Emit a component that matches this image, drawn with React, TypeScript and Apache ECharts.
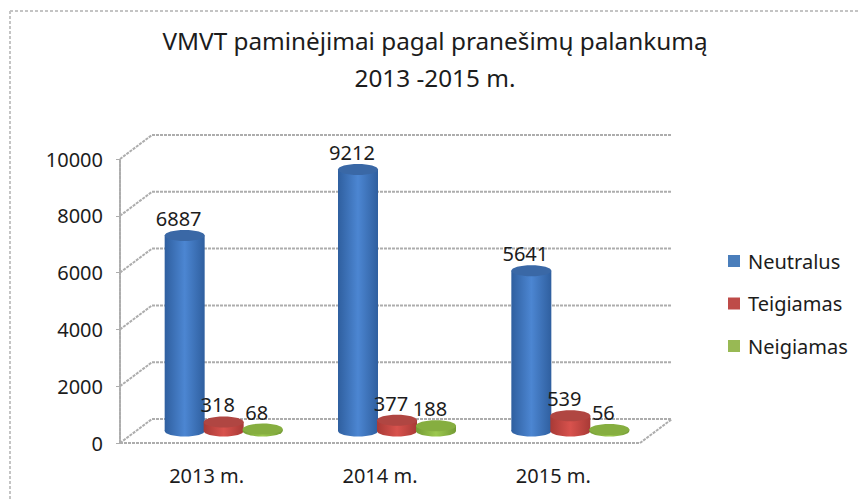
import React, { useEffect, useRef } from "react";
import * as echarts from "echarts";

const categories = ["2013 m.", "2014 m.", "2015 m."];
const neutralus = [6887, 9212, 5641];
const teigiamas = [318, 377, 539];
const neigiamas = [68, 188, 56];
const yTicks = [0, 2000, 4000, 6000, 8000, 10000];

const FONT = "'Noto Sans', sans-serif";
const DEPTH_X = 32;
const DEPTH_Y = -24;
const GRID_COLOR = "#adadad";
const GRID_DASH = [3, 1];

const lineStyle = { stroke: GRID_COLOR, lineWidth: 2, lineDash: GRID_DASH, fill: "none" };

function frameItem(params: any, api: any) {
  const v = api.value(0);
  const cs = params.coordSys;
  const y = api.coord([0, v])[1];
  const left = cs.x;
  const right = cs.x + cs.width;
  const children: any[] = [
    { type: "line", shape: { x1: left, y1: y, x2: left + DEPTH_X, y2: y + DEPTH_Y }, style: lineStyle },
    { type: "line", shape: { x1: left + DEPTH_X, y1: y + DEPTH_Y, x2: right + DEPTH_X, y2: y + DEPTH_Y }, style: lineStyle },
  ];
  if (v === 0) {
    children.push(
      { type: "line", shape: { x1: left, y1: y, x2: right, y2: y }, style: lineStyle },
      { type: "line", shape: { x1: right, y1: y, x2: right + DEPTH_X, y2: y + DEPTH_Y }, style: lineStyle },
    );
  }
  return { type: "group", children };
}

function cylinder(slot: number, edge: string, mid: string, top: string) {
  return (_params: any, api: any) => {
    const idx = api.value(0);
    const v = api.value(1);
    const p0 = api.coord([idx, 0]);
    const p1 = api.coord([idx, v]);
    const cx = p0[0] + 17 + slot * 39;
    const yBase = p0[1] - 12;
    const yTop = p1[1] - 12;
    const rx = 20;
    const ry = 5.5;
    const fill = new echarts.graphic.LinearGradient(0, 0, 1, 0, [
      { offset: 0, color: edge },
      { offset: 0.5, color: mid },
      { offset: 1, color: edge },
    ]);
    return {
      type: "group",
      children: [
        { type: "ellipse", shape: { cx, cy: yBase, rx, ry }, style: { fill } },
        { type: "rect", shape: { x: cx - rx, y: yTop, width: rx * 2, height: yBase - yTop }, style: { fill } },
        { type: "ellipse", shape: { cx, cy: yTop, rx, ry }, style: { fill: top } },
        {
          type: "text",
          style: {
            text: String(v),
            x: cx - 6,
            y: yTop - 17,
            align: "center",
            verticalAlign: "middle",
            font: `20px ${FONT}`,
            fill: "#1c1c1c",
          },
        },
      ],
    };
  };
}

const barSeries = (name: string, values: number[], slot: number, edge: string, mid: string, top: string, legendColor: string) => ({
  name,
  type: "custom",
  clip: false,
  z: 5,
  itemStyle: { color: legendColor },
  encode: { x: 0, y: 1 },
  data: values.map((v, i) => [i, v]),
  renderItem: cylinder(slot, edge, mid, top),
});

export default function App() {
  const ref = useRef<HTMLDivElement>(null);
  useEffect(() => {
    const chart = echarts.init(ref.current!, undefined, { renderer: "svg" });
    chart.setOption({
      animation: false,
      backgroundColor: "#ffffff",
      title: {
        text: "VMVT paminėjimai pagal pranešimų palankumą\n2013 -2015 m.",
        left: 430,
        top: 17,
        textAlign: "center",
        textStyle: { fontFamily: FONT, fontSize: 24.3, fontWeight: "normal", color: "#1c1c1c", lineHeight: 37 },
      },
      legend: {
        orient: "vertical",
        left: 728,
        top: 249,
        padding: 0,
        data: ["Neutralus", "Teigiamas", "Neigiamas"],
        icon: "rect",
        itemWidth: 12,
        itemHeight: 12,
        itemGap: 18.5,
        textStyle: { fontFamily: FONT, fontSize: 20, color: "#1c1c1c", padding: [0, 0, 0, 3], height: 24, lineHeight: 24 },
      },
      grid: { left: 120, top: 159, width: 520, height: 284 },
      xAxis: {
        type: "category",
        data: categories,
        axisLine: { show: false },
        axisTick: { show: false },
        axisLabel: { margin: 22, fontFamily: FONT, fontSize: 20, color: "#1c1c1c" },
      },
      yAxis: {
        type: "value",
        min: 0,
        max: 10000,
        interval: 2000,
        axisLine: { show: true, lineStyle: { color: GRID_COLOR, width: 2, type: GRID_DASH } },
        axisTick: { show: true, length: 4, lineStyle: { color: GRID_COLOR } },
        splitLine: { show: false },
        axisLabel: { margin: 17, fontFamily: FONT, fontSize: 20, color: "#1c1c1c", formatter: (v: number) => String(v) },
      },
      graphic: [
        { type: "line", shape: { x1: 10, y1: 11, x2: 859, y2: 11 }, style: { stroke: "#c4c4c4", lineWidth: 2, lineDash: [3, 2] } },
        { type: "line", shape: { x1: 10, y1: 11, x2: 10, y2: 500 }, style: { stroke: "#c4c4c4", lineWidth: 2, lineDash: [3, 2] } },
      ],
      series: [
        {
          name: "frame",
          type: "custom",
          clip: false,
          z: 1,
          silent: true,
          encode: { y: 0 },
          data: yTicks.map((v) => [v]),
          renderItem: frameItem,
        },
        barSeries("Neutralus", neutralus, -1, "#2f5f9f", "#4c86d2", "#3a68a6", "#4a7ebb"),
        barSeries("Teigiamas", teigiamas, 0, "#a83a36", "#d8524d", "#b04642", "#be4b48"),
        barSeries("Neigiamas", neigiamas, 1, "#739b34", "#9cc84f", "#86ae40", "#98b954"),
      ],
    });
    return () => chart.dispose();
  }, []);
  return <div ref={ref} style={{ position: "fixed", left: 0, top: 0, width: 859, height: 500 }} />;
}
